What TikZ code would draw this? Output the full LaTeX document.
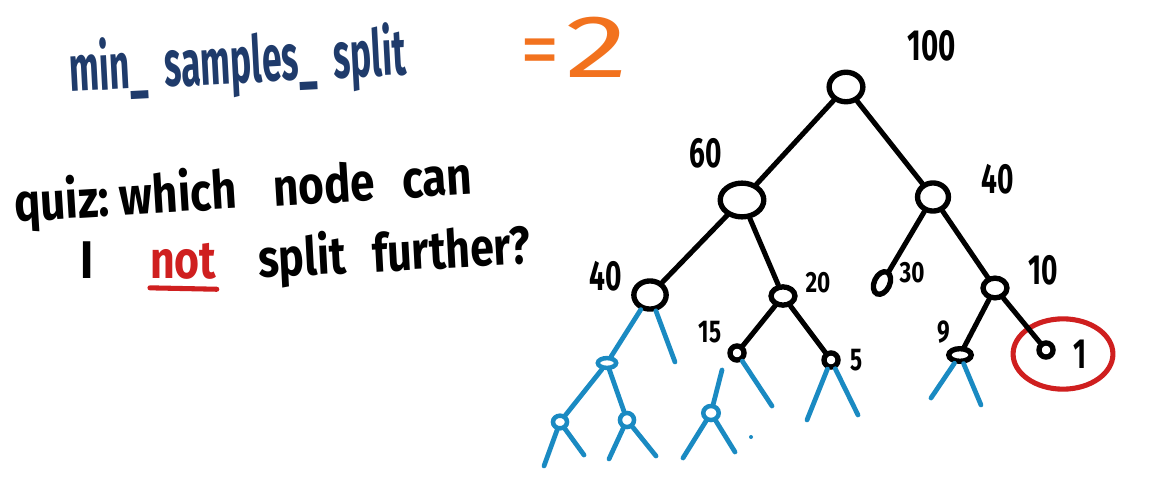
\documentclass[tikz,border=0pt]{standalone}
\usepackage{fontspec}
\setmainfont{Fira Sans}
\usetikzlibrary{shapes.geometric,positioning}

\definecolor{inkblue}{HTML}{1F3B6B}
\definecolor{inkorange}{HTML}{F2721E}
\definecolor{inkred}{HTML}{CF1F1F}
\definecolor{twig}{HTML}{1A8AC2}

\begin{document}
\begin{tikzpicture}[x=0.025cm, y=-0.025cm,
    tnode/.style={draw, ellipse, line width=3.8pt, inner sep=0pt},
    bnode/.style={draw=twig, ellipse, line width=3.2pt, inner sep=0pt},
    num/.style={font=\fontsize{20}{22}\selectfont\bfseries, inner sep=1pt},
    small/.style={font=\fontsize{16}{18}\selectfont\bfseries},
    edge/.style={line width=3.6pt, line cap=round},
    twigline/.style={twig, line width=3.4pt, line cap=round},
    quiz/.style={font=\fontsize{29}{32}\selectfont\bfseries, inner sep=0pt, anchor=base west}
]
\useasboundingbox[fill=white] (0,0) rectangle (1172,492);

% heading
\node[quiz, text=inkblue, font=\fontsize{28}{30}\selectfont\bfseries, rotate=3] (title) at (70,92) {\scalebox{0.9}[1.65]{min\_ \ samples\_ \ split}};
\node[quiz, text=inkorange, font=\fontsize{62}{64}\selectfont] (value) at (520,78) {\scalebox{0.9}[0.95]{=}\hspace{4pt}\scalebox{1.45}[1.02]{2}};

% question
\node[quiz, rotate=3.5] (q1) at (15,222) {\scalebox{1.08}[1.3]{quiz:\ which\hspace{24pt}node\hspace{18pt}can}};
\node[quiz] (q2) at (80,278) {\scalebox{1.1}[1.3]{I}};
\node[quiz, text=inkred, right=40pt of q2.base east, anchor=base west] (qnot) {\scalebox{1.05}[1.3]{not}};
\node[quiz, right=30pt of qnot.base east, anchor=base west, rotate=3] (q3) {\scalebox{1.05}[1.3]{split\hspace{18pt}further?}};
\draw[inkred, line width=3.6pt, line cap=round] ([yshift=-7pt]qnot.base west) -- ([yshift=-8pt]qnot.base east);

% tree
\node[tnode, minimum width=24pt, minimum height=21pt] (root) at (846,87) {};
\node[tnode, minimum width=31pt, minimum height=24pt] (n60) at (742,200) {};
\node[tnode, minimum width=22pt, minimum height=20pt] (n40r) at (933,197) {};
\node[tnode, minimum width=23pt, minimum height=20pt] (n40l) at (650,295) {};
\node[tnode, minimum width=17pt, minimum height=13pt] (n20) at (783,296) {};
\node[tnode, minimum width=11pt, minimum height=17pt, rotate=-25] (n30) at (882,283) {};
\node[tnode, minimum width=17pt, minimum height=14pt] (n10) at (995,288) {};
\node[tnode, minimum width=10pt, minimum height=10pt] (n15) at (737,353) {};
\node[tnode, minimum width=10pt, minimum height=10pt] (n5) at (831,360) {};
\node[tnode, minimum width=16pt, minimum height=9pt] (n9) at (960,355) {};
\node[tnode, minimum width=10pt, minimum height=10pt] (n1) at (1046,350) {};

\node[draw=inkred, ellipse, line width=3.6pt, minimum width=71pt, minimum height=50pt] (ring) at (1063,354) {};

\node[num] (l100) at (932,46) {\scalebox{1.05}[1.55]{100}};
\node[num] (l60) at (706,153) {\scalebox{1}[1.5]{60}};
\node[num] (l40r) at (998,179) {\scalebox{1}[1.5]{40}};
\node[num] (l40l) at (606,276) {\scalebox{1}[1.5]{40}};
\node[num, small] (l20) at (818,283) {\scalebox{1}[1.3]{20}};
\node[num, small] (l30) at (912,273) {\scalebox{1}[1.3]{30}};
\node[num] (l10) at (1043,270) {\scalebox{1}[1.5]{10}};
\node[num, small] (l15) at (710,332) {\scalebox{1}[1.4]{15}};
\node[num, small] (l5) at (857,360) {\scalebox{1}[1.4]{5}};
\node[num, small] (l9) at (944,332) {\scalebox{1}[1.4]{9}};
\node[num] (l1) at (1080,354) {\scalebox{1}[1.5]{1}};

\draw[edge] (root) -- (n60);
\draw[edge] (root) -- (n40r);
\draw[edge] (n60) -- (n40l);
\draw[edge] (n60) -- (n20);
\draw[edge] (n40r) -- (n30);
\draw[edge] (n40r) -- (n10);
\draw[edge] (n20) -- (n15);
\draw[edge] (n20) -- (n5);
\draw[edge] (n10) -- (n9);
\draw[edge] (n10) -- (n1);

% further splits (blue)
\node[bnode, minimum width=13pt, minimum height=7pt] (b1) at (607,363) {};
\node[bnode, minimum width=10pt, minimum height=9pt] (b2) at (560,422) {};
\node[bnode, minimum width=10pt, minimum height=10pt] (b3) at (627,420) {};
\node[bnode, minimum width=11pt, minimum height=10pt] (b4) at (711,413) {};

\coordinate (t1) at (675,362);
\coordinate (t2) at (544,466);
\coordinate (t3) at (584,455);
\coordinate (t4) at (609,459);
\coordinate (t5) at (656,456);
\coordinate (t6) at (722,370);
\coordinate (t7) at (683,458);
\coordinate (t8) at (735,452);
\coordinate (t9) at (772,406);
\coordinate (t10) at (807,420);
\coordinate (t11) at (858,415);
\coordinate (t12) at (931,398);
\coordinate (t13) at (981,405);

\draw[twigline] (n40l) -- (b1);
\draw[twigline] (n40l) -- (t1);
\draw[twigline] (b1) -- (b2);
\draw[twigline] (b1) -- (b3);
\draw[twigline] (b2) -- (t2);
\draw[twigline] (b2) -- (t3);
\draw[twigline] (b3) -- (t4);
\draw[twigline] (b3) -- (t5);
\draw[twigline] (t6) -- (b4);
\draw[twigline] (b4) -- (t7);
\draw[twigline] (b4) -- (t8);
\draw[twigline] (n15) -- (t9);
\draw[twigline] (n5) -- (t10);
\draw[twigline] (n5) -- (t11);
\draw[twigline] (n9) -- (t12);
\draw[twigline] (n9) -- (t13);
\fill[twig] (751,437) circle (2);
\end{tikzpicture}
\end{document}
